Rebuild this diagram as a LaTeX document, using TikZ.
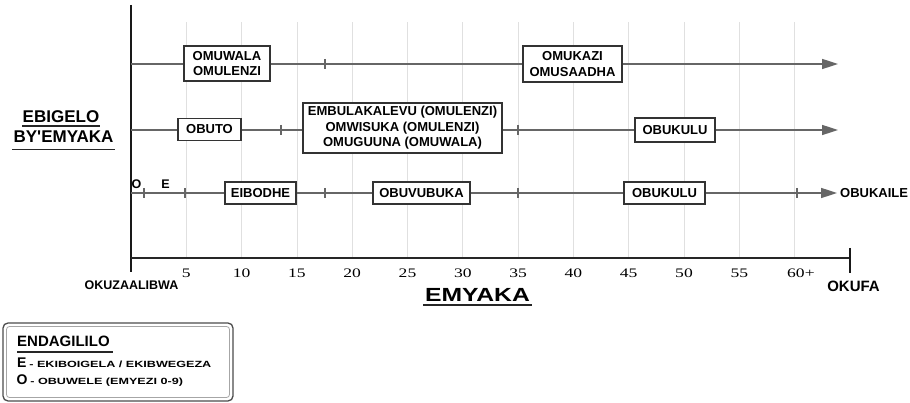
\documentclass[tikz,border=0pt]{standalone}
\usepackage{fontspec}
\setmainfont{Liberation Serif}
\newfontfamily\lsans{Liberation Sans}
\usetikzlibrary{arrows.meta}
\newcommand{\fsz}[2]{\fontsize{#1}{#2}\selectfont}
\begin{document}
\begin{tikzpicture}[x=1pt,y=-1pt,
  gridln/.style={draw=black!12, line width=0.7pt},
  axisln/.style={draw=black!90, line width=2pt},
  haxis/.style={draw=black!85, line width=1.6pt},
  tl/.style={draw=black!60, line width=1.6pt},
  tlarrow/.style={tl, -{Triangle[length=16pt,width=10pt]}},
  tk/.style={draw=black!60, line width=1.2pt},
  lbox/.style={draw=black!80, line width=1.4pt, fill=white, inner sep=0pt,
    align=center, font=\lsans\bfseries\fsz{13}{15.5}},
  lab/.style={inner sep=0pt, font=\lsans\bfseries},
  num/.style={inner sep=0pt, font=\fsz{13}{15}},
  uline/.style={draw=black!85, line width=1.6pt}
]
\useasboundingbox (0,0) rectangle (910,403);

% faint grid
\foreach \k in {1,...,12} \draw[gridln] ({131+55.3*\k},22) -- ({131+55.3*\k},258);

% axes
\coordinate (otop) at (131,5);
\coordinate (obot) at (131,272);
\coordinate (hx0) at (131,258);
\coordinate (hx1) at (850,258);
\coordinate (endt) at (850,248);
\coordinate (endb) at (850,273);
\draw[axisln] (otop) -- (obot);
\draw[haxis] (hx0) -- (hx1);
\draw[axisln] (endt) -- (endb);

% timelines
\coordinate (r1s) at (131,64);  \coordinate (r1e) at (838,64);
\coordinate (r2s) at (131,130); \coordinate (r2e) at (838,130);
\coordinate (r3s) at (131,193); \coordinate (r3e) at (837,193);
\draw[tlarrow] (r1s) -- (r1e);
\draw[tlarrow] (r2s) -- (r2e);
\draw[tlarrow] (r3s) -- (r3e);

% ticks
\foreach \x/\y in {325/64, 281/130, 518/130, 144/193, 185/193, 325/193, 518/193, 797/193}
  \draw[tk] (\x,\y-5) -- (\x,\y+5);

% boxes row 1
\node[lbox, minimum width=86pt, minimum height=35pt] (b11) at (227,63.5) {OMUWALA\\OMULENZI};
\node[lbox, minimum width=99pt, minimum height=36pt] (b12) at (572.5,64) {OMUKAZI\\OMUSAADHA};
% boxes row 2
\node[lbox, minimum width=63pt, minimum height=22pt] (b21) at (209.5,129.5) {OBUTO};
\node[lbox, minimum width=199pt, minimum height=50pt] (b22) at (402.5,128) {EMBULAKALEVU (OMULENZI)\\OMWISUKA (OMULENZI)\\OMUGUUNA (OMUWALA)};
\node[lbox, minimum width=80pt, minimum height=24pt] (b23) at (675,130) {OBUKULU};
% boxes row 3
\node[lbox, minimum width=71pt, minimum height=22pt] (b31) at (260.5,193) {EIBODHE};
\node[lbox, minimum width=97pt, minimum height=22pt] (b32) at (421.5,193) {OBUVUBUKA};
\node[lbox, minimum width=81pt, minimum height=22pt] (b33) at (664.5,193) {OBUKULU};

% O and E markers
\node[lab, font=\lsans\bfseries\fsz{12.5}{14}] (mo) at (136.5,184.5) {O};
\node[lab, font=\lsans\bfseries\fsz{12.5}{14}] (me) at (165.5,184.5) {E};
\node[lab, anchor=west, font=\lsans\bfseries\fsz{13}{15}] (obk) at (840,193) {OBUKAILE};

% left label
\node[lab, font=\lsans\bfseries\fsz{17}{20}] (eb1) at (61,116.5) {EBIGELO};
\node[lab, font=\lsans\bfseries\fsz{17}{20}] (eb2) at (63.5,137) {BY'EMYAKA};
\draw[uline] (22,126) -- (100,126);
\draw[uline] (12,149.5) -- (115,149.5);

% numbers
\foreach \k/\t in {1/5,2/10,3/15,4/20,5/25,6/30,7/35,8/40,9/45,10/50,11/55}
  \node[num] (n\k) at ({131+55.3*\k},273) {\scalebox{1.35}[1]{\t}};
\node[num, anchor=west] (n12) at (787,273) {\scalebox{1.35}[1]{60+}};

% axis end labels
\node[lab, font=\lsans\bfseries\fsz{12.5}{14}] (born) at (131.5,285.5) {OKUZAALIBWA};
\node[lab, font=\lsans\bfseries\fsz{15}{17}] (death) at (853.5,286.5) {OKUFA};
\node[lab] (emy) at (477.5,295) {\scalebox{1.3}[1]{\lsans\bfseries\fsz{19}{22}EMYAKA}};
\draw[uline, line width=2pt] (423,305) -- (532,305);

% legend
\draw[draw=black!70, line width=1.3pt, rounded corners=5pt] (3,323) rectangle (233,401);
\draw[draw=black!35, line width=0.8pt, rounded corners=3pt] (6.5,326.5) rectangle (229.5,397.5);
\node[lab, anchor=west, font=\lsans\bfseries\fsz{15}{17}] (lg0) at (17,341) {ENDAGILILO};
\draw[draw=black!85, line width=1.3pt] (17,352) -- (113,352);
\node[lab, anchor=west] (lg1) at (17,363) {{\fsz{14}{16}E} \scalebox{1.4}[1]{\fsz{9}{11}- EKIBOIGELA / EKIBWEGEZA}};
\node[lab, anchor=west] (lg2) at (16.5,381) {{\fsz{14}{16}O} \scalebox{1.4}[1]{\fsz{9}{11}- OBUWELE (EMYEZI 0-9)}};
\end{tikzpicture}
\end{document}
